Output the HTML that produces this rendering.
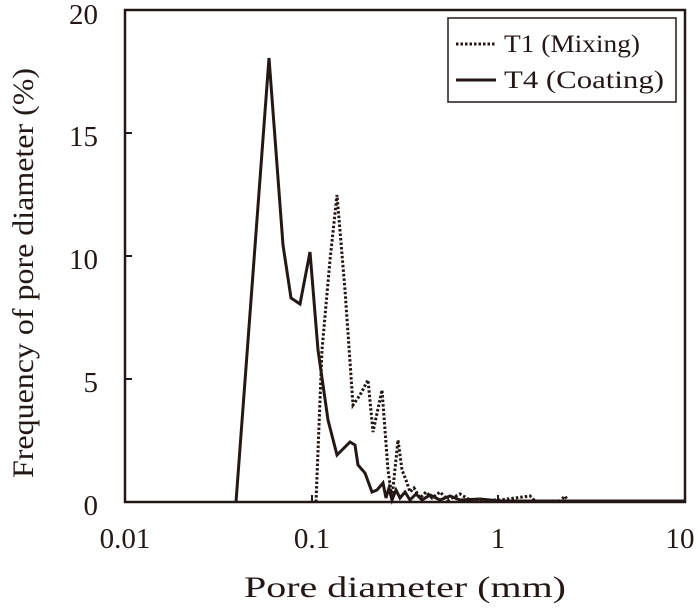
<!DOCTYPE html>
<html><head><meta charset="utf-8"><style>body{margin:0;background:#fff}</style></head><body>
<svg width="700" height="604" xmlns="http://www.w3.org/2000/svg" font-family="Liberation Serif, serif" fill="#231815">
<rect x="125" y="10" width="560" height="492" fill="none" stroke="#231815" stroke-width="2.5"/>
<g stroke="#231815" stroke-width="2">
<line x1="125" y1="133" x2="132" y2="133"/><line x1="125" y1="256" x2="132" y2="256"/><line x1="125" y1="379" x2="132" y2="379"/>
<line x1="312" y1="502" x2="312" y2="495"/><line x1="498" y1="502" x2="498" y2="495"/>
</g>
<g font-size="29" text-anchor="end">
<text x="98" y="24">20</text><text x="98" y="146">15</text><text x="98" y="269">10</text><text x="98" y="392">5</text><text x="98" y="515">0</text>
</g>
<g font-size="29" text-anchor="middle">
<text x="125" y="548">0.01</text><text x="312" y="548">0.1</text><text x="498" y="548">1</text><text x="680" y="548">10</text>
</g>
<text x="405" y="597" font-size="30" text-anchor="middle" textLength="322" lengthAdjust="spacingAndGlyphs">Pore diameter (mm)</text>
<text transform="translate(33,273) rotate(-90)" font-size="30" text-anchor="middle" textLength="410" lengthAdjust="spacingAndGlyphs">Frequency of pore diameter (%)</text>
<polyline fill="none" stroke="#231815" stroke-width="3" points="236,502 269,58 283,245 291,298 300,304 310,252 318,350 328,420 337,455 350,442 355,445 358,465 365,473 372,492 377,490 383,483 386,498 389,488 392,500 396,490 400,498 405,492 410,500 416,494 422,500 430,495 440,500 450,496 460,500 480,499 500,501 685,501"/>
<polyline fill="none" stroke="#231815" stroke-width="3" stroke-dasharray="2.5,2" points="316,502 322,350 330,260 337,195 345,290 353,405 360,395 368,380 373,432 382,390 388,470 392,498 398,440 402,470 406,480 410,492 414,488 420,498 426,492 432,498 440,492 448,500 460,494 470,500 500,500 530,496 535,501 560,501 565,496 568,501 685,501"/>
<rect x="448" y="18" width="228" height="84" fill="#fff" stroke="#231815" stroke-width="1.5"/>
<line x1="456" y1="44" x2="496" y2="44" stroke="#231815" stroke-width="3" stroke-dasharray="2.5,2"/>
<line x1="456" y1="80" x2="496" y2="80" stroke="#231815" stroke-width="3"/>
<g font-size="25"><text x="504" y="52" textLength="136" lengthAdjust="spacingAndGlyphs">T1 (Mixing)</text><text x="504" y="88" textLength="160" lengthAdjust="spacingAndGlyphs">T4 (Coating)</text></g>
</svg>
</body></html>
